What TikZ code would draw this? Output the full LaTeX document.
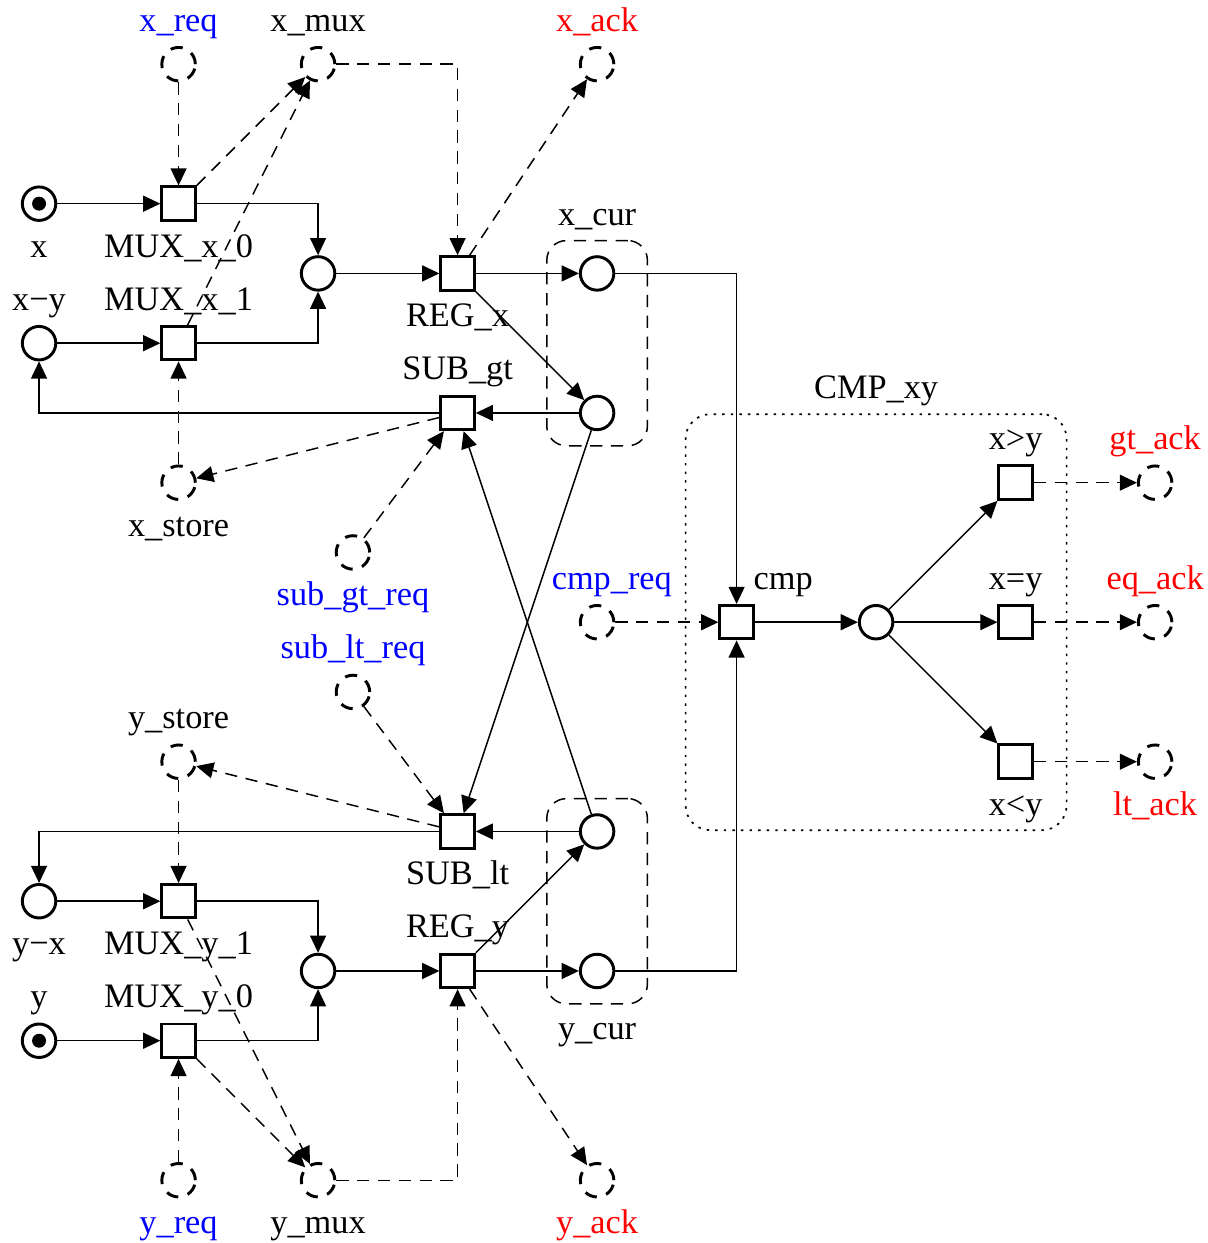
\documentclass[tikz,border=0pt]{standalone}
\usepackage{fontspec}
\setmainfont{Liberation Serif}
\usetikzlibrary{arrows.meta,fit}
\begin{document}
\begin{tikzpicture}[
  font=\fontsize{14}{16}\selectfont,
  every label/.style={text height=10.8pt,text depth=2.5pt},
  plc/.style={circle,draw,line width=1.2pt,minimum size=0.48cm,inner sep=0pt},
  dplc/.style={plc,dash pattern=on 5pt off 4pt},
  trn/.style={rectangle,draw,line width=1.2pt,minimum size=0.48cm,inner sep=0pt},
  grp/.style={draw,rounded corners=8pt,line width=0.6pt,dash pattern=on 5pt off 3.5pt,
              inner xsep=0.46cm,inner ysep=0.21cm},
  arrow/.style={-{Triangle[length=7pt,width=6.5pt]},line width=0.6pt},
  darrow/.style={arrow,dash pattern=on 5pt off 3.5pt}]
\useasboundingbox (-0.56,0.92) rectangle (16.75,-16.9);
\node[plc,label=below:x]              (px)     at (0,-2)  {};
\fill (px) circle (0.1);
\node[plc,label=above:x−y]            (pxy)    at (0,-4)  {};
\node[trn,label=below:MUX\_x\_0]      (tmx0)   at (2,-2)  {};
\node[trn,label=above:MUX\_x\_1]      (tmx1)   at (2,-4)  {};
\node[plc]                            (pmx)    at (4,-3)  {};
\node[trn,label=below:REG\_x]         (tregx)  at (6,-3)  {};
\node[trn,label=above:SUB\_gt]        (tsubgt) at (6,-5)  {};
\node[plc]                            (pxc1)   at (8,-3)  {};
\node[plc]                            (pxc2)   at (8,-5)  {};
\node[dplc,label={[blue]above:x\_req}] (xreq)  at (2,0)   {};
\node[dplc,label=above:x\_mux]         (xmux)  at (4,0)   {};
\node[dplc,label={[red]above:x\_ack}]  (xack)  at (8,0)   {};
\node[dplc,label=below:x\_store]       (xstore) at (2,-6) {};
\node[dplc,label={[blue]below:sub\_gt\_req}] (subgtreq) at (4.5,-7) {};
\node[plc]                            (pyc1)   at (8,-11) {};
\node[plc]                            (pyc2)   at (8,-13) {};
\node[trn,label=below:SUB\_lt]        (tsublt) at (6,-11) {};
\node[trn,label=above:REG\_y]         (tregy)  at (6,-13) {};
\node[plc]                            (pmy)    at (4,-13) {};
\node[trn,label=below:MUX\_y\_1]      (tmy1)   at (2,-12) {};
\node[trn,label=above:MUX\_y\_0]      (tmy0)   at (2,-14) {};
\node[plc,label=below:y−x]            (pyx)    at (0,-12) {};
\node[plc,label=above:y]              (py)     at (0,-14) {};
\fill (py) circle (0.1);
\node[dplc,label={[blue]above:sub\_lt\_req}] (subltreq) at (4.5,-9) {};
\node[dplc,label=above:y\_store]       (ystore) at (2,-10) {};
\node[dplc,label={[blue]below:y\_req}] (yreq)  at (2,-16)  {};
\node[dplc,label=below:y\_mux]         (ymux)  at (4,-16)  {};
\node[dplc,label={[red]below:y\_ack}]  (yack)  at (8,-16)  {};
\node[dplc,label={[blue,xshift=6pt]above:cmp\_req}] (cmpreq) at (8,-8) {};
\node[trn,label={[xshift=-4pt]above right:cmp}] (tcmp) at (10,-8) {};
\node[plc]                            (pcmp)   at (12,-8) {};
\node[trn,label=above:x>y]            (tgt)    at (14,-6) {};
\node[trn,label={above:{x=y}}]        (teq)    at (14,-8) {};
\node[trn,label=below:x<y]            (tlt)    at (14,-10) {};
\node[dplc,label={[red]above:gt\_ack}] (gtack) at (16,-6)  {};
\node[dplc,label={[red]above:eq\_ack}] (eqack) at (16,-8)  {};
\node[dplc,label={[red]below:lt\_ack}] (ltack) at (16,-10) {};
\node[grp,fit=(pxc1)(pxc2),label=above:x\_cur] (xcur) {};
\node[grp,fit=(pyc1)(pyc2),label=below:y\_cur] (ycur) {};
\node[draw,dash pattern=on 1pt off 2.5pt,rounded corners=10pt,line width=0.7pt,
      inner xsep=0.47cm,inner ysep=0.72cm,fit=(tcmp)(tgt)(tlt),label=above:CMP\_xy] (cmpxy) {};
\draw[arrow] (px) -- (tmx0);
\draw[arrow] (pxy) -- (tmx1);
\draw[arrow] (tmx0) -| (pmx);
\draw[arrow] (tmx1) -| (pmx);
\draw[arrow] (pmx) -- (tregx);
\draw[arrow] (tregx) -- (pxc1);
\draw[arrow] (tregx) -- (pxc2);
\draw[arrow] (pxc2) -- (tsubgt);
\draw[arrow] (tsubgt) -| (pxy);
\draw[arrow] (pxc1) -| (tcmp);
\draw[arrow] (pxc2) -- (tsublt);
\draw[arrow] (pyc1) -- (tsubgt);
\draw[arrow] (pyc1) -- (tsublt);
\draw[arrow] (tsublt) -| (pyx);
\draw[arrow] (pyx) -- (tmy1);
\draw[arrow] (py) -- (tmy0);
\draw[arrow] (tmy1) -| (pmy);
\draw[arrow] (tmy0) -| (pmy);
\draw[arrow] (pmy) -- (tregy);
\draw[arrow] (tregy) -- (pyc2);
\draw[arrow] (tregy) -- (pyc1);
\draw[arrow] (pyc2) -| (tcmp);
\draw[arrow] (tcmp) -- (pcmp);
\draw[arrow] (pcmp) -- (tgt);
\draw[arrow] (pcmp) -- (teq);
\draw[arrow] (pcmp) -- (tlt);
\draw[darrow] (xreq) -- (tmx0);
\draw[darrow] (tmx0) -- (xmux);
\draw[darrow] (tmx1) -- (xmux);
\draw[darrow] (xmux) -| (tregx);
\draw[darrow] (tregx) -- (xack);
\draw[darrow] (xstore) -- (tmx1);
\draw[darrow] (tsubgt) -- (xstore);
\draw[darrow] (subgtreq) -- (tsubgt);
\draw[darrow] (cmpreq) -- (tcmp);
\draw[darrow] (subltreq) -- (tsublt);
\draw[darrow] (tsublt) -- (ystore);
\draw[darrow] (ystore) -- (tmy1);
\draw[darrow] (yreq) -- (tmy0);
\draw[darrow] (tmy0) -- (ymux);
\draw[darrow] (tmy1) -- (ymux);
\draw[darrow] (ymux) -| (tregy);
\draw[darrow] (tregy) -- (yack);
\draw[darrow] (tgt) -- (gtack);
\draw[darrow] (teq) -- (eqack);
\draw[darrow] (tlt) -- (ltack);
\end{tikzpicture}
\end{document}
